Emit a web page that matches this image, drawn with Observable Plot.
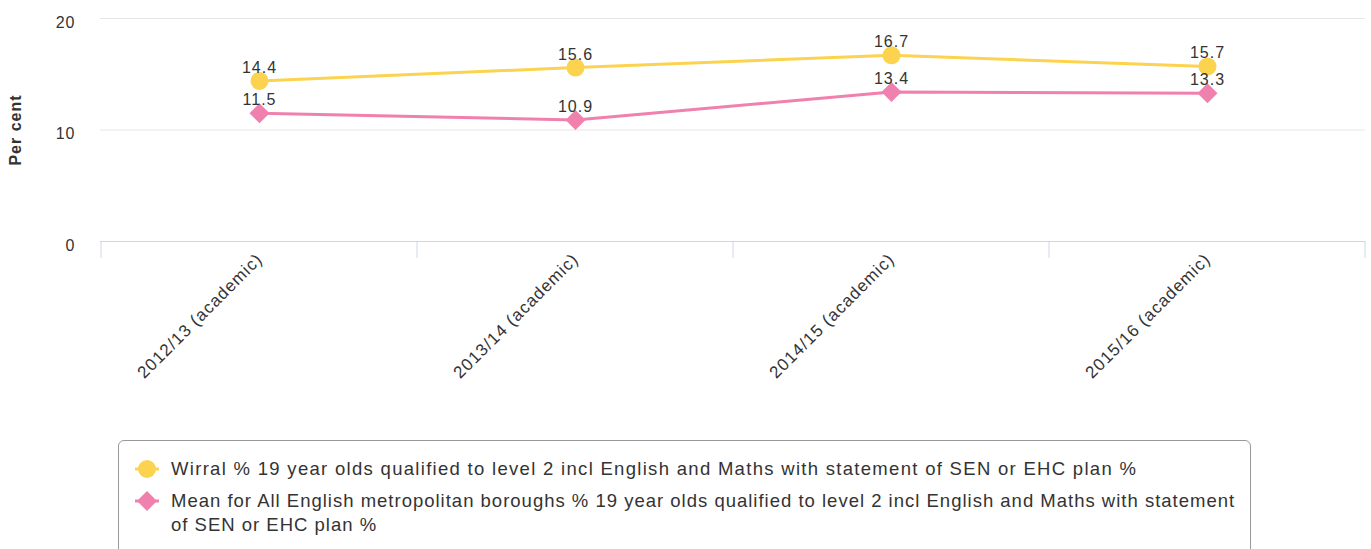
<!DOCTYPE html>
<html>
<head>
<meta charset="utf-8">
<script src="https://cdn.jsdelivr.net/npm/d3@7"></script>
<script src="https://cdn.jsdelivr.net/npm/@observablehq/plot@0.6"></script>
<style>
  html, body { margin: 0; padding: 0; background: #fff; font-family: "Liberation Sans", Arial, sans-serif; }
  #chart { position: relative; width: 1371px; height: 549px; overflow: hidden; }
  #legend {
    position: absolute; left: 118px; top: 440px; width: 1133px; height: 140px;
    border: 1px solid #999; border-radius: 6px; box-sizing: border-box;
    padding: 16px 10px 0 15px; color: #333; font-size: 18.5px; letter-spacing: 1.3px;
  }
  .item { display: flex; align-items: flex-start; line-height: 24px; margin-bottom: 8px; }
  .item + .item { letter-spacing: 1.0px; }
  .item svg { flex: none; margin-right: 11px; margin-top: 0px; }
  .item span { display: block; width: 1072px; }
</style>
</head>
<body>
<div id="chart"></div>
<script>
const categories = ["2012/13 (academic)", "2013/14 (academic)", "2014/15 (academic)", "2015/16 (academic)"];
const wirral = [14.4, 15.6, 16.7, 15.7];
const meanMet = [11.5, 10.9, 13.4, 13.3];
const seriesNames = [
  "Wirral % 19 year olds qualified to level 2 incl English and Maths with statement of SEN or EHC plan %",
  "Mean for All English metropolitan boroughs % 19 year olds qualified to level 2 incl English and Maths with statement of SEN or EHC plan %"
];
const seriesColors = ["#fcd34e", "#f080ae"];
const seriesSymbols = ["circle", "diamond2"];
const yTicks = [0, 10, 20];
const gridTicks = [10, 20];
const yLabel = "Per cent";

const data = [];
categories.forEach((c, i) => {
  data.push({cat: c, value: wirral[i], series: seriesNames[0]});
});
categories.forEach((c, i) => {
  data.push({cat: c, value: meanMet[i], series: seriesNames[1]});
});

const boundaryTicks = (index, scales, values, dimensions) => {
  const x = scales.x;
  const step = x.step ? x.step() : (dimensions.width - dimensions.marginLeft - dimensions.marginRight) / categories.length;
  const bounds = categories.map(c => x(c) - step / 2).concat([x(categories[categories.length - 1]) + step / 2]);
  const y0 = scales.y(0);
  const g = d3.create("svg:g");
  g.selectAll("line").data(bounds).join("line")
    .attr("x1", d => d).attr("x2", d => d)
    .attr("y1", y0).attr("y2", y0 + 17)
    .attr("stroke", "#ccd6eb").attr("stroke-width", 1);
  return g.node();
};

const chart = Plot.plot({
  width: 1371,
  height: 400,
  marginLeft: 100,
  marginRight: 6,
  marginTop: 18,
  marginBottom: 159,
  style: {fontFamily: "'Liberation Sans', Arial, sans-serif", fontSize: "16px", color: "#333", background: "#fff", letterSpacing: "1px"},
  x: {type: "point", domain: categories, padding: 0.5},
  y: {domain: [0, 20]},
  color: {domain: seriesNames, range: seriesColors},
  symbol: {domain: seriesNames, range: seriesSymbols},
  marks: [
    Plot.ruleY(gridTicks, {stroke: "#e6e6e6", strokeWidth: 1}),
    Plot.ruleY([0], {stroke: "#ccd6eb", strokeWidth: 1}),
    boundaryTicks,
    Plot.axisY({ticks: yTicks, tickSize: 0, tickPadding: 25, dy: 4, label: null, fontSize: 16, fill: "#333"}),
    Plot.axisX({tickRotate: -45, tickSize: 0, tickPadding: 15, label: null, fontSize: 17, fill: "#333", dx: 0}),
    Plot.text([yLabel], {frameAnchor: "left", textAnchor: "middle", rotate: -90, dx: -85, fontWeight: "bold", fontSize: 16, fill: "#333"}),
    Plot.line(data, {x: "cat", y: "value", z: "series", stroke: "series", strokeWidth: 3}),
    Plot.dot(data, {x: "cat", y: "value", fill: "series", symbol: "series", r: 9, stroke: "none"}),
    Plot.text(data, {x: "cat", y: "value", text: d => d.value.toFixed(1), lineAnchor: "bottom", dy: -8, fontSize: 16, fill: "#333"})
  ]
});
document.getElementById("chart").appendChild(chart);

const legend = document.createElement("div");
legend.id = "legend";
seriesNames.forEach((name, i) => {
  const item = document.createElement("div");
  item.className = "item";
  const sym = d3.create("svg").attr("width", 26).attr("height", 24);
  sym.append("line").attr("x1", 1).attr("x2", 25).attr("y1", 12).attr("y2", 12)
    .attr("stroke", seriesColors[i]).attr("stroke-width", 3);
  const shape = seriesSymbols[i] === "circle" ? d3.symbolCircle : d3.symbolDiamond2;
  sym.append("path").attr("transform", "translate(13,12)")
    .attr("d", d3.symbol(shape, Math.PI * 81)())
    .attr("fill", seriesColors[i]);
  item.appendChild(sym.node());
  const span = document.createElement("span");
  span.textContent = name;
  item.appendChild(span);
  legend.appendChild(item);
});
document.getElementById("chart").appendChild(legend);
</script>
</body>
</html>
